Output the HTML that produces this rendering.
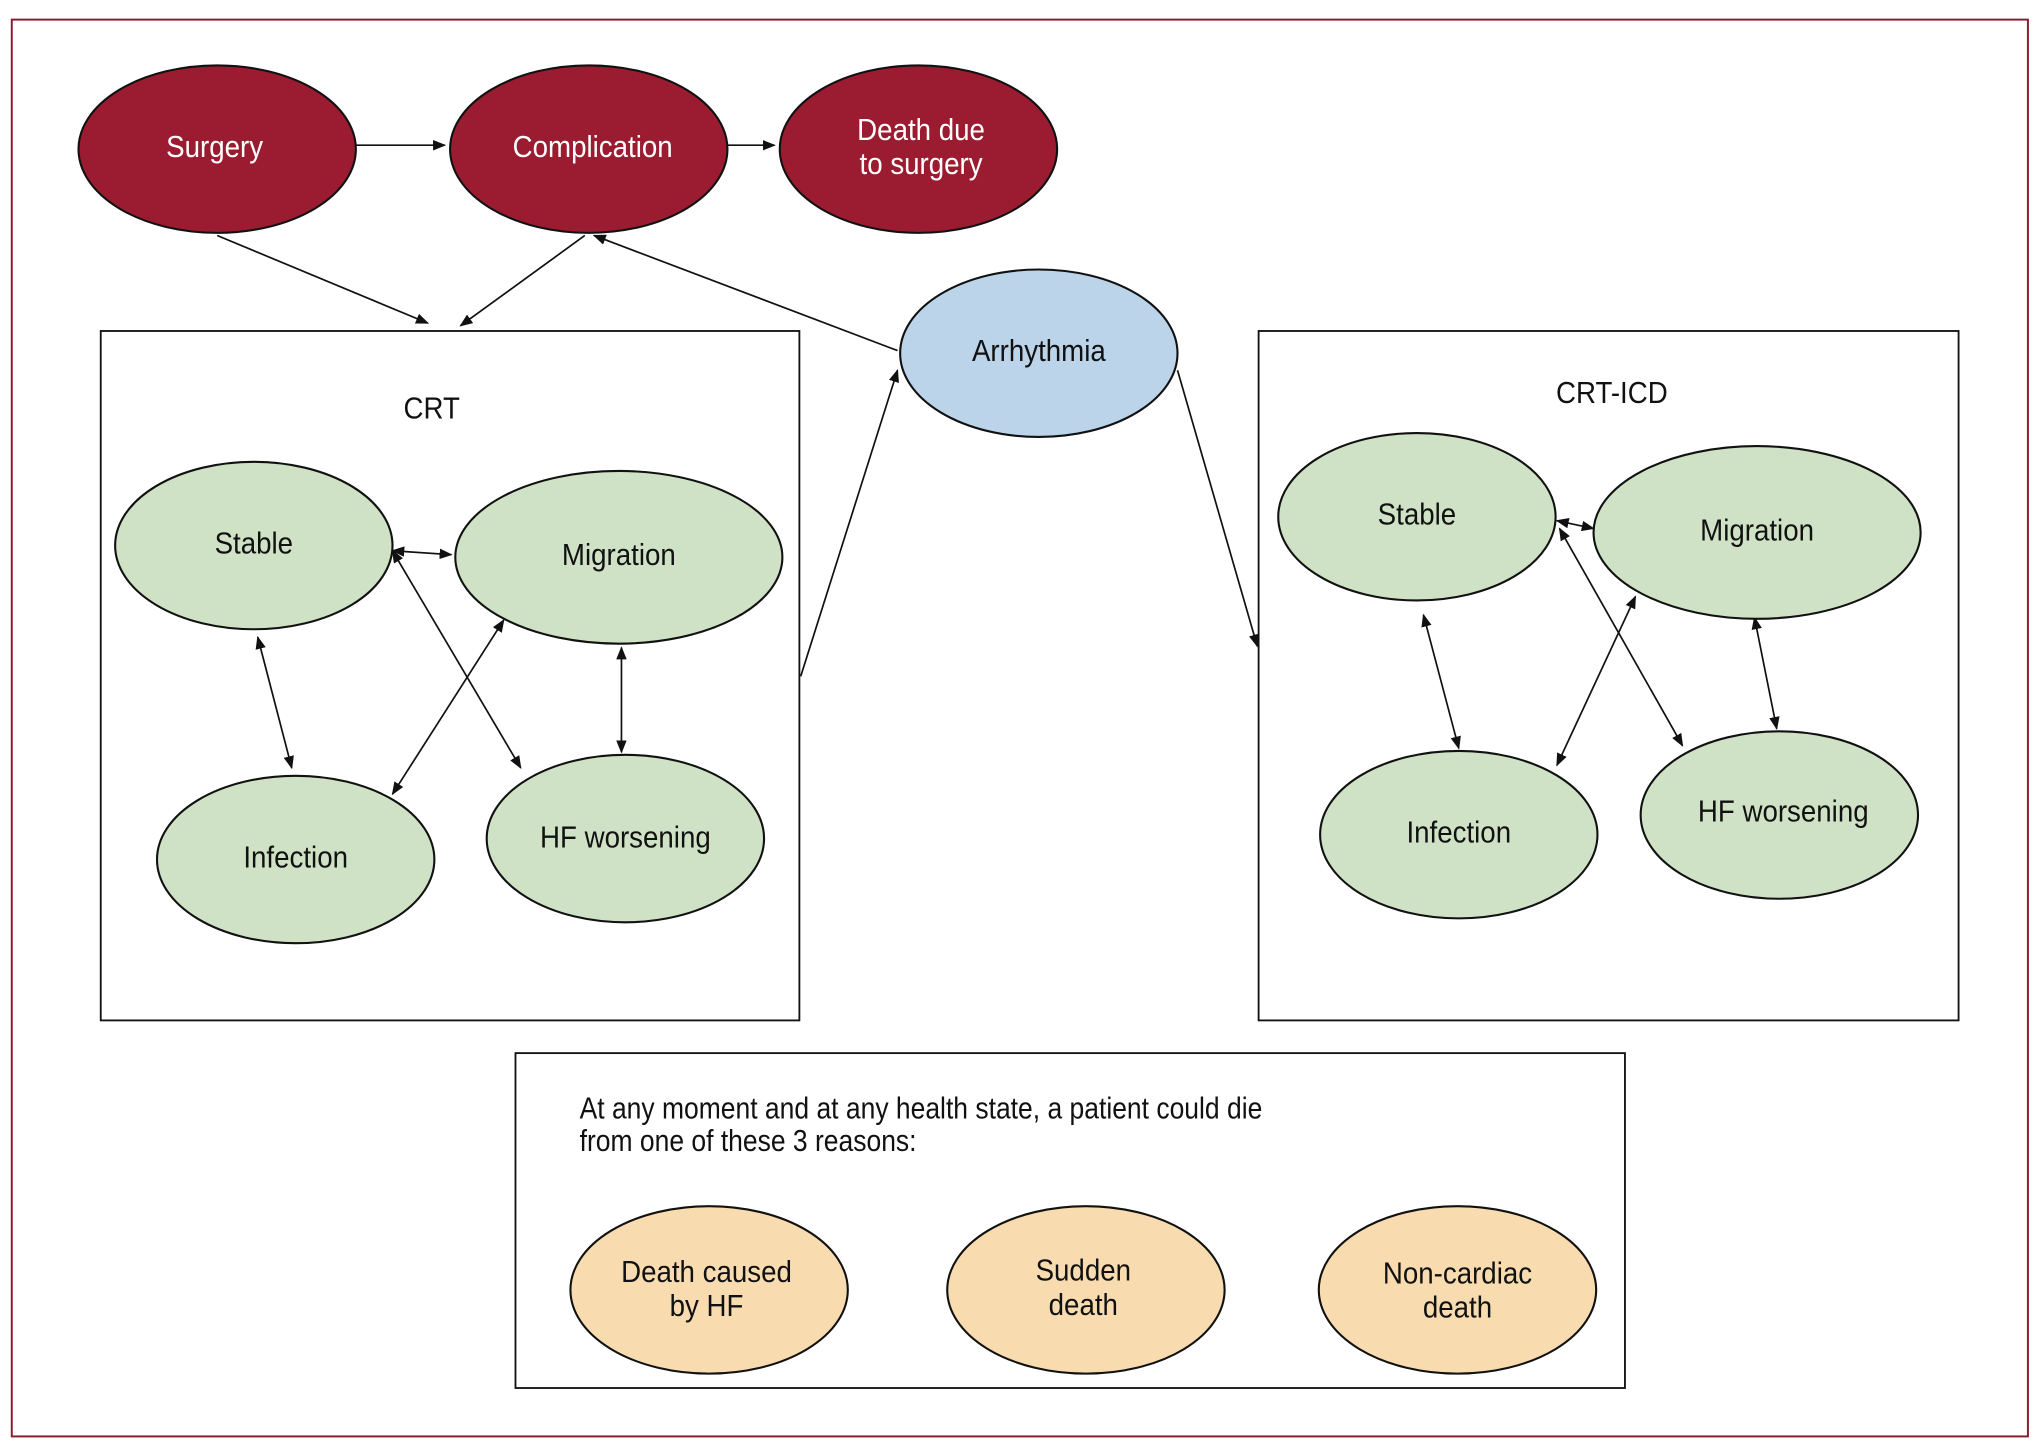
<!DOCTYPE html>
<html><head><meta charset="utf-8"><style>
html,body{margin:0;padding:0;background:#fff;}
svg{display:block;}
text{font-family:"Liberation Sans Narrow","Liberation Sans",sans-serif;font-size:23px;text-anchor:middle;fill:#111;transform-box:fill-box;transform-origin:center;transform:scaleX(0.92);}
text.st{transform-origin:left center;transform:scaleX(0.88);}
.w{fill:#fff;}
.e{stroke:#111;stroke-width:1.6;}
.r{fill:#9b1c31;}
.g{fill:#cfe2c5;}
.o{fill:#f8dcb0;}
.b{fill:#bcd4ea;}
.l{stroke:#111;stroke-width:1.3;fill:none;}
</style></head><body>
<svg width="2041" height="1441" viewBox="0 0 1560 1101.5" preserveAspectRatio="none" xmlns="http://www.w3.org/2000/svg">
<defs>
<marker id="a" markerWidth="10" markerHeight="8" refX="9" refY="4" orient="auto" markerUnits="userSpaceOnUse"><path d="M0,0 L10,4 L0,8 z" fill="#111"/></marker>
<marker id="s" markerWidth="10" markerHeight="8" refX="1" refY="4" orient="auto" markerUnits="userSpaceOnUse"><path d="M10,0 L0,4 L10,8 z" fill="#111"/></marker>
</defs>
<rect x="9" y="15" width="1541" height="1083" fill="none" stroke="#8b1a2b" stroke-width="1.5"/>
<rect x="77" y="253" width="534" height="527" fill="none" stroke="#111" stroke-width="1.4"/>
<rect x="962" y="253" width="535" height="527" fill="none" stroke="#111" stroke-width="1.4"/>
<rect x="394" y="805" width="848" height="256" fill="none" stroke="#111" stroke-width="1.4"/>

<line class="l" x1="272" y1="111" x2="340" y2="111" marker-end="url(#a)"/>
<line class="l" x1="556" y1="111" x2="592" y2="111" marker-end="url(#a)"/>
<line class="l" x1="166" y1="180" x2="327" y2="247" marker-end="url(#a)"/>
<line class="l" x1="447" y1="180" x2="352" y2="249" marker-end="url(#a)"/>
<line class="l" x1="686" y1="268" x2="454" y2="180" marker-end="url(#a)"/>
<line class="l" x1="612" y1="517" x2="686" y2="283" marker-end="url(#a)"/>
<line class="l" x1="900" y1="283" x2="961" y2="494" marker-end="url(#a)"/>

<line class="l" x1="300" y1="421" x2="345" y2="424" marker-start="url(#s)" marker-end="url(#a)"/>
<line class="l" x1="300" y1="421" x2="398" y2="587" marker-start="url(#s)" marker-end="url(#a)"/>
<line class="l" x1="197" y1="487" x2="223" y2="587" marker-start="url(#s)" marker-end="url(#a)"/>
<line class="l" x1="385" y1="474" x2="300" y2="607" marker-start="url(#s)" marker-end="url(#a)"/>
<line class="l" x1="475" y1="495" x2="475" y2="575" marker-start="url(#s)" marker-end="url(#a)"/>

<line class="l" x1="1190" y1="398" x2="1218" y2="404" marker-start="url(#s)" marker-end="url(#a)"/>
<line class="l" x1="1192" y1="404" x2="1286" y2="570" marker-start="url(#s)" marker-end="url(#a)"/>
<line class="l" x1="1088" y1="470" x2="1115" y2="572" marker-start="url(#s)" marker-end="url(#a)"/>
<line class="l" x1="1250" y1="456" x2="1190" y2="585" marker-start="url(#s)" marker-end="url(#a)"/>
<line class="l" x1="1341" y1="472" x2="1358" y2="557" marker-start="url(#s)" marker-end="url(#a)"/>

<ellipse class="e r" cx="166" cy="114" rx="106" ry="64"/>
<ellipse class="e r" cx="450" cy="114" rx="106" ry="64"/>
<ellipse class="e r" cx="702" cy="114" rx="106" ry="64"/>
<text class="w" x="164" y="120">Surgery</text>
<text class="w" x="453" y="120">Complication</text>
<text class="w" x="704" y="107">Death due</text>
<text class="w" x="704" y="133">to surgery</text>

<ellipse class="e b" cx="794" cy="270" rx="106" ry="64"/>
<text x="794" y="276">Arrhythmia</text>

<text x="330" y="320">CRT</text>
<text x="1232" y="308">CRT-ICD</text>

<ellipse class="e g" cx="194" cy="417" rx="106" ry="64"/>
<ellipse class="e g" cx="473" cy="426" rx="125" ry="66"/>
<ellipse class="e g" cx="226" cy="657" rx="106" ry="64"/>
<ellipse class="e g" cx="478" cy="641" rx="106" ry="64"/>
<text x="194" y="423">Stable</text>
<text x="473" y="432">Migration</text>
<text x="226" y="663">Infection</text>
<text x="478" y="648">HF worsening</text>

<ellipse class="e g" cx="1083" cy="395" rx="106" ry="64"/>
<ellipse class="e g" cx="1343" cy="407" rx="125" ry="66"/>
<ellipse class="e g" cx="1115" cy="638" rx="106" ry="64"/>
<ellipse class="e g" cx="1360" cy="623" rx="106" ry="64"/>
<text x="1083" y="401">Stable</text>
<text x="1343" y="413">Migration</text>
<text x="1115" y="644">Infection</text>
<text x="1363" y="628">HF worsening</text>

<text class="st" x="443" y="855" style="text-anchor:start">At any moment and at any health state, a patient could die</text>
<text class="st" x="443" y="880" style="text-anchor:start">from one of these 3 reasons:</text>

<ellipse class="e o" cx="542" cy="986" rx="106" ry="64"/>
<ellipse class="e o" cx="830" cy="986" rx="106" ry="64"/>
<ellipse class="e o" cx="1114" cy="986" rx="106" ry="64"/>
<text x="540" y="980">Death caused</text>
<text x="540" y="1006">by HF</text>
<text x="828" y="979">Sudden</text>
<text x="828" y="1005">death</text>
<text x="1114" y="981">Non-cardiac</text>
<text x="1114" y="1007">death</text>
</svg>
</body></html>
